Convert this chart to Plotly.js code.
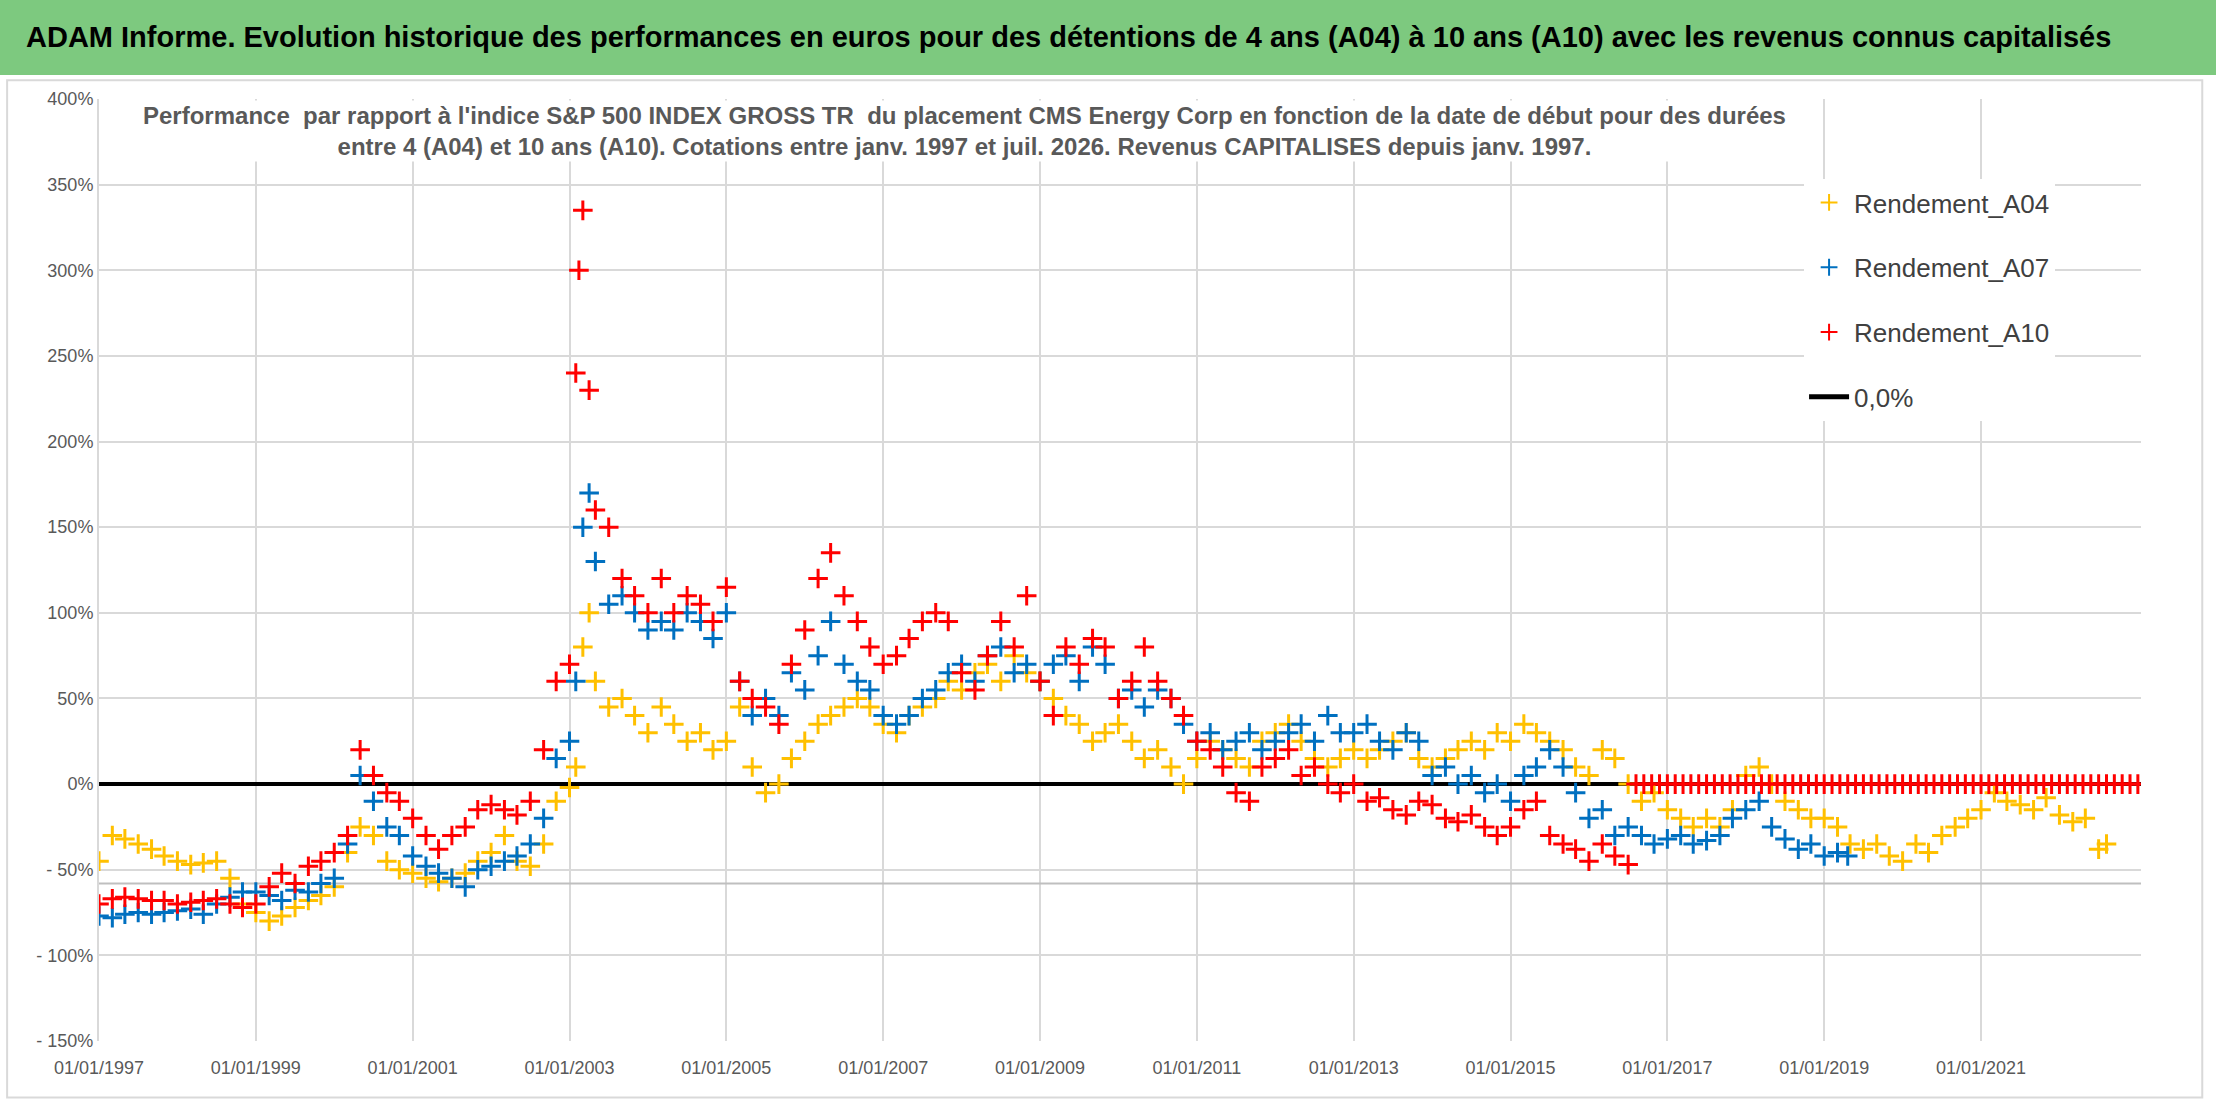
<!DOCTYPE html>
<html><head><meta charset="utf-8">
<script src="https://cdn.plot.ly/plotly-3.0.1.min.js"></script>
<style>body{margin:0;background:#fff}#c{width:2216px;height:1102px}</style>
</head><body><div id="c"></div>
<script>
const a04 = [[1997.0,-45],[1997.17,-30],[1997.33,-32],[1997.5,-35],[1997.67,-38],[1997.83,-42],[1998.0,-45],[1998.17,-47],[1998.33,-46],[1998.5,-45],[1998.67,-55],[1998.83,-70],[1999.0,-75],[1999.17,-80],[1999.33,-77],[1999.5,-72],[1999.67,-68],[1999.83,-65],[2000.0,-60],[2000.17,-40],[2000.33,-25],[2000.5,-30],[2000.67,-45],[2000.83,-50],[2001.0,-52],[2001.17,-55],[2001.33,-57],[2001.5,-55],[2001.67,-52],[2001.83,-45],[2002.0,-40],[2002.17,-30],[2002.33,-45],[2002.5,-48],[2002.67,-35],[2002.83,-10],[2003.0,-2],[2003.08,10],[2003.17,80],[2003.25,100],[2003.33,60],[2003.5,45],[2003.67,50],[2003.83,40],[2004.0,30],[2004.17,45],[2004.33,35],[2004.5,25],[2004.67,30],[2004.83,20],[2005.0,25],[2005.17,45],[2005.33,10],[2005.5,-5],[2005.67,0],[2005.83,15],[2006.0,25],[2006.17,35],[2006.33,40],[2006.5,45],[2006.67,50],[2006.83,45],[2007.0,35],[2007.17,30],[2007.33,40],[2007.5,45],[2007.67,50],[2007.83,60],[2008.0,55],[2008.17,65],[2008.33,70],[2008.5,60],[2008.67,75],[2008.83,65],[2009.0,60],[2009.17,50],[2009.33,40],[2009.5,35],[2009.67,25],[2009.83,30],[2010.0,35],[2010.17,25],[2010.33,15],[2010.5,20],[2010.67,10],[2010.83,0],[2011.0,15],[2011.17,25],[2011.33,20],[2011.5,15],[2011.67,10],[2011.83,25],[2012.0,30],[2012.17,35],[2012.33,25],[2012.5,15],[2012.67,10],[2012.83,15],[2013.0,20],[2013.17,15],[2013.33,20],[2013.5,25],[2013.67,30],[2013.83,15],[2014.0,10],[2014.17,15],[2014.33,20],[2014.5,25],[2014.67,20],[2014.83,30],[2015.0,25],[2015.17,35],[2015.33,30],[2015.5,25],[2015.67,20],[2015.83,10],[2016.0,5],[2016.17,20],[2016.33,15],[2016.5,0],[2016.67,-10],[2016.83,-5],[2017.0,-15],[2017.17,-20],[2017.33,-25],[2017.5,-20],[2017.67,-25],[2017.83,-15],[2018.0,5],[2018.17,10],[2018.33,0],[2018.5,-10],[2018.67,-15],[2018.83,-20],[2019.0,-20],[2019.17,-25],[2019.33,-35],[2019.5,-38],[2019.67,-35],[2019.83,-42],[2020.0,-45],[2020.17,-35],[2020.33,-40],[2020.5,-30],[2020.67,-25],[2020.83,-20],[2021.0,-15],[2021.17,-5],[2021.33,-10],[2021.5,-12],[2021.67,-15],[2021.83,-8],[2022.0,-18],[2022.17,-22],[2022.33,-20],[2022.5,-38],[2022.6,-35]];
const a07 = [[1997.0,-77],[1997.17,-78],[1997.33,-76],[1997.5,-75],[1997.67,-76],[1997.83,-75],[1998.0,-74],[1998.17,-73],[1998.33,-76],[1998.5,-70],[1998.67,-66],[1998.83,-63],[1999.0,-63],[1999.17,-65],[1999.33,-68],[1999.5,-62],[1999.67,-63],[1999.83,-58],[2000.0,-55],[2000.17,-35],[2000.33,5],[2000.5,-10],[2000.67,-25],[2000.83,-30],[2001.0,-42],[2001.17,-48],[2001.33,-52],[2001.5,-55],[2001.67,-60],[2001.83,-50],[2002.0,-48],[2002.17,-45],[2002.33,-42],[2002.5,-35],[2002.67,-20],[2002.83,15],[2003.0,25],[2003.08,60],[2003.17,150],[2003.25,170],[2003.33,130],[2003.5,105],[2003.67,110],[2003.83,100],[2004.0,90],[2004.17,95],[2004.33,90],[2004.5,100],[2004.67,95],[2004.83,85],[2005.0,100],[2005.17,60],[2005.33,40],[2005.5,50],[2005.67,40],[2005.83,65],[2006.0,55],[2006.17,75],[2006.33,95],[2006.5,70],[2006.67,60],[2006.83,55],[2007.0,40],[2007.17,35],[2007.33,40],[2007.5,50],[2007.67,55],[2007.83,65],[2008.0,70],[2008.17,60],[2008.33,75],[2008.5,80],[2008.67,65],[2008.83,70],[2009.0,60],[2009.17,70],[2009.33,75],[2009.5,60],[2009.67,80],[2009.83,70],[2010.0,50],[2010.17,55],[2010.33,45],[2010.5,55],[2010.67,50],[2010.83,35],[2011.0,25],[2011.17,30],[2011.33,20],[2011.5,25],[2011.67,30],[2011.83,20],[2012.0,25],[2012.17,30],[2012.33,35],[2012.5,25],[2012.67,40],[2012.83,30],[2013.0,30],[2013.17,35],[2013.33,25],[2013.5,20],[2013.67,30],[2013.83,25],[2014.0,5],[2014.17,10],[2014.33,0],[2014.5,5],[2014.67,-5],[2014.83,0],[2015.0,-10],[2015.17,5],[2015.33,10],[2015.5,20],[2015.67,10],[2015.83,-5],[2016.0,-20],[2016.17,-15],[2016.33,-30],[2016.5,-25],[2016.67,-30],[2016.83,-35],[2017.0,-32],[2017.17,-30],[2017.33,-35],[2017.5,-33],[2017.67,-30],[2017.83,-20],[2018.0,-15],[2018.17,-10],[2018.33,-25],[2018.5,-32],[2018.67,-38],[2018.83,-35],[2019.0,-42],[2019.17,-40],[2019.3,-42]];
const a10 = [[1997.0,-70],[1997.17,-67],[1997.33,-66],[1997.5,-67],[1997.67,-68],[1997.83,-68],[1998.0,-70],[1998.17,-69],[1998.33,-68],[1998.5,-67],[1998.67,-70],[1998.83,-72],[1999.0,-70],[1999.17,-60],[1999.33,-52],[1999.5,-58],[1999.67,-48],[1999.83,-45],[2000.0,-40],[2000.17,-30],[2000.33,20],[2000.5,5],[2000.67,-5],[2000.83,-10],[2001.0,-20],[2001.17,-30],[2001.33,-38],[2001.5,-30],[2001.67,-25],[2001.83,-15],[2002.0,-12],[2002.17,-15],[2002.33,-18],[2002.5,-10],[2002.67,20],[2002.83,60],[2003.0,70],[2003.08,240],[2003.12,300],[2003.17,335],[2003.25,230],[2003.33,160],[2003.5,150],[2003.67,120],[2003.83,110],[2004.0,100],[2004.17,120],[2004.33,100],[2004.5,110],[2004.67,105],[2004.83,95],[2005.0,115],[2005.17,60],[2005.33,50],[2005.5,45],[2005.67,35],[2005.83,70],[2006.0,90],[2006.17,120],[2006.33,135],[2006.5,110],[2006.67,95],[2006.83,80],[2007.0,70],[2007.17,75],[2007.33,85],[2007.5,95],[2007.67,100],[2007.83,95],[2008.0,65],[2008.17,55],[2008.33,75],[2008.5,95],[2008.67,80],[2008.83,110],[2009.0,60],[2009.17,40],[2009.33,80],[2009.5,70],[2009.67,85],[2009.83,80],[2010.0,50],[2010.17,60],[2010.33,80],[2010.5,60],[2010.67,50],[2010.83,40],[2011.0,25],[2011.17,20],[2011.33,10],[2011.5,-5],[2011.67,-10],[2011.83,10],[2012.0,15],[2012.17,20],[2012.33,5],[2012.5,10],[2012.67,0],[2012.83,-5],[2013.0,0],[2013.17,-10],[2013.33,-8],[2013.5,-15],[2013.67,-18],[2013.83,-10],[2014.0,-12],[2014.17,-20],[2014.33,-22],[2014.5,-18],[2014.67,-25],[2014.83,-30],[2015.0,-25],[2015.17,-15],[2015.33,-10],[2015.5,-30],[2015.67,-35],[2015.83,-38],[2016.0,-45],[2016.17,-35],[2016.33,-42],[2016.5,-47],
[2016.6,0],[2016.7,0],[2016.8,0],[2016.9,0],[2017.0,0],[2017.1,0],[2017.2,0],[2017.3,0],[2017.4,0],[2017.5,0],[2017.6,0],[2017.7,0],[2017.8,0],[2017.9,0],[2018.0,0],[2018.1,0],[2018.2,0],[2018.3,0],[2018.4,0],[2018.5,0],[2018.6,0],[2018.7,0],[2018.8,0],[2018.9,0],[2019.0,0],[2019.1,0],[2019.2,0],[2019.3,0],[2019.4,0],[2019.5,0],[2019.6,0],[2019.7,0],[2019.8,0],[2019.9,0],[2020.0,0],[2020.1,0],[2020.2,0],[2020.3,0],[2020.4,0],[2020.5,0],[2020.6,0],[2020.7,0],[2020.8,0],[2020.9,0],[2021.0,0],[2021.1,0],[2021.2,0],[2021.3,0],[2021.4,0],[2021.5,0],[2021.6,0],[2021.7,0],[2021.8,0],[2021.9,0],[2022.0,0],[2022.1,0],[2022.2,0],[2022.3,0],[2022.4,0],[2022.5,0],[2022.6,0],[2022.7,0],[2022.8,0],[2022.9,0],[2023.0,0]];
const xTickVals = [1997,1999,2001,2003,2005,2007,2009,2011,2013,2015,2017,2019,2021];
const xTickText = ["01/01/1997","01/01/1999","01/01/2001","01/01/2003","01/01/2005","01/01/2007","01/01/2009","01/01/2011","01/01/2013","01/01/2015","01/01/2017","01/01/2019","01/01/2021"];
const yTickVals = [400,350,300,250,200,150,100,50,0,-50,-100,-150];
const yTickText = ["400%","350%","300%","250%","200%","150%","100%","50%","0%","- 50%","- 100%","- 150%"];
const refLevel = -58;
const X0 = 1997, X1 = 2023.04;

const F = '"Liberation Sans Narrow", "Liberation Sans", sans-serif';
function sc(d, name, color, g){
  return {type:'scatter', mode:'markers', name, legendgroup:g, x:d.map(p=>p[0]), y:d.map(p=>p[1]),
    marker:{symbol:'cross-thin-open', size:14, color, line:{color, width:3}}};
}
const traces = [
  {type:'scatter',mode:'lines',x:[X0,X1],y:[refLevel,refLevel],line:{color:'#BFBFBF',width:2},showlegend:false,hoverinfo:'skip'},
  {type:'scatter',mode:'lines',x:[X0,X1],y:[0,0],line:{color:'#000',width:4},showlegend:false,hoverinfo:'skip'},
  sc(a04,'Rendement_A04','#FFC000','g1'),
  sc(a07,'Rendement_A07','#0070C0','g2'),
  sc(a10,'Rendement_A10','#FF0000','g3'),
  {type:'scatter',mode:'lines',x:[null],y:[null],name:'0,0%',legendgroup:'g4',line:{color:'#000',width:4}}
];
const layout = {
  width:2216, height:1102, paper_bgcolor:'#fff', plot_bgcolor:'#fff',
  margin:{l:99,r:75,t:99,b:61}, font:{family:F,color:'#595959',size:18},
  xaxis:{range:[X0,X1],tickvals:xTickVals,ticktext:xTickText,showgrid:true,gridcolor:'#D9D9D9',gridwidth:2,
    zeroline:false,showline:false,ticks:'',ticklabelstandoff:14,tickfont:{size:18,color:'#595959'}},
  yaxis:{range:[-150,400],tickvals:yTickVals,ticktext:yTickText,showgrid:true,gridcolor:'#D9D9D9',gridwidth:2,
    zeroline:false,showline:true,linecolor:'#D9D9D9',linewidth:2,ticks:'',tickfont:{size:18,color:'#595959'}},
  legend:{x:0.835,y:0.915,xanchor:'left',yanchor:'top',bgcolor:'#fff',font:{size:26,color:'#404040',family:F},
    tracegroupgap:28,itemsizing:'constant',itemwidth:40},
  shapes:[
    {type:'rect',xref:'paper',yref:'paper',x0:-0.05,x1:1.04,y0:1.0255,y1:1.11,fillcolor:'#7DC97F',line:{width:0},layer:'below'},
    {type:'rect',xref:'paper',yref:'paper',x0:-0.045,x1:1.03,y0:-0.06,y1:1.02,fillcolor:'rgba(0,0,0,0)',line:{color:'#D9D9D9',width:2}}
  ],
  annotations:[
    {xref:'paper',yref:'paper',x:0.475,y:1.066,text:'<b>ADAM Informe. Evolution historique des performances en euros pour des détentions de 4 ans (A04) à 10 ans (A10) avec les revenus connus capitalisés</b>',
      showarrow:false,font:{size:29,color:'#000',family:F},xanchor:'center',yanchor:'middle'},
    {xref:'paper',yref:'paper',x:0.424,y:0.966,text:"<b>Performance  par rapport à l'indice S&P 500 INDEX GROSS TR  du placement CMS Energy Corp en fonction de la date de début pour des durées</b><br><b>entre 4 (A04) et 10 ans (A10). Cotations entre janv. 1997 et juil. 2026. Revenus CAPITALISES depuis janv. 1997.</b>",
      showarrow:false,font:{size:24,color:'#595959',family:F},bgcolor:'#fff',xanchor:'center',yanchor:'middle',align:'center'}
  ]
};
Plotly.newPlot('c', traces, layout, {displayModeBar:false, staticPlot:true});
</script></body></html>
